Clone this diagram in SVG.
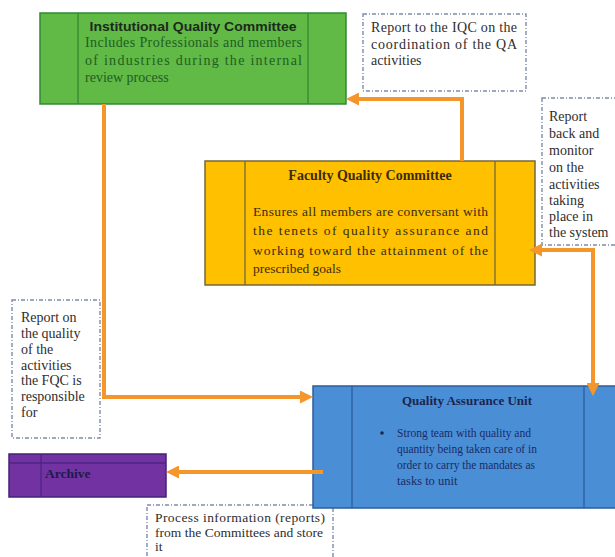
<svg xmlns="http://www.w3.org/2000/svg" width="615" height="557" viewBox="0 0 615 557">
<defs>
<style>
.serif{font-family:"Liberation Serif","DejaVu Serif",serif;}
.sans{font-family:"Liberation Sans",Arial,sans-serif;}
.note{fill:#ffffff;stroke:#7d8aab;stroke-width:1.4;stroke-dasharray:4 2 1 2;}
.nt{font-family:"Liberation Serif","DejaVu Serif",serif;font-size:14px;fill:#2e2e2e;}
.conn{fill:none;stroke:#f4962a;stroke-width:4;}
.div{stroke-width:1.3;}
</style>
<marker id="ah" markerUnits="userSpaceOnUse" markerWidth="13" markerHeight="13" refX="4" refY="6.5" orient="auto-start-reverse" viewBox="0 0 13 13">
<path d="M0,0 L13,6.5 L0,13 z" fill="#f4962a"/>
</marker>
</defs>
<rect width="615" height="557" fill="#ffffff"/>

<g id="note-iqc">
<rect class="note" x="363" y="14" width="163" height="77"/>
<text class="nt" x="371" y="32" textLength="146" lengthAdjust="spacing">Report to the IQC on the</text>
<text class="nt" x="371" y="49" textLength="146" lengthAdjust="spacing">coordination of the QA</text>
<text class="nt" x="371" y="65">activities</text>
</g>

<g id="note-fqc">
<rect class="note" x="542" y="98" width="80" height="147"/>
<text class="nt" x="549" y="121">Report</text>
<text class="nt" x="549" y="138">back and</text>
<text class="nt" x="549" y="155">monitor</text>
<text class="nt" x="549" y="172">on the</text>
<text class="nt" x="549" y="189">activities</text>
<text class="nt" x="549" y="205">taking</text>
<text class="nt" x="549" y="221">place in</text>
<text class="nt" x="549" y="237">the system</text>
</g>

<g id="note-left">
<rect class="note" x="12" y="300" width="88" height="138"/>
<text class="nt" x="21" y="322">Report on</text>
<text class="nt" x="21" y="338">the quality</text>
<text class="nt" x="21" y="354">of the</text>
<text class="nt" x="21" y="370">activities</text>
<text class="nt" x="21" y="385">the FQC is</text>
<text class="nt" x="21" y="401">responsible</text>
<text class="nt" x="21" y="417">for</text>
</g>

<g id="note-archive">
<rect class="note" x="147" y="505" width="186" height="60"/>
<text class="nt" x="155" y="522" font-size="13.5" textLength="170" lengthAdjust="spacing" style="font-size:13.5px">Process information (reports)</text>
<text class="nt" x="155" y="537" textLength="168" lengthAdjust="spacing" style="font-size:13.5px">from the Committees and store</text>
<text class="nt" x="155" y="551" style="font-size:13.5px">it</text>
</g>

<g id="iqc">
<rect x="40" y="13" width="306" height="91" fill="#61b946" stroke="#2f8a35" stroke-width="1.5"/>
<line class="div" x1="78" y1="13" x2="78" y2="104" stroke="#2f8a35"/>
<line class="div" x1="308" y1="13" x2="308" y2="104" stroke="#2f8a35"/>
<text class="sans" x="193" y="31" text-anchor="middle" font-size="12.5" font-weight="bold" fill="#1c2a1c" textLength="207" lengthAdjust="spacingAndGlyphs">Institutional Quality Committee</text>
<text class="serif" x="85" y="47" font-size="14" fill="#1e5e22" textLength="217" lengthAdjust="spacing">Includes Professionals and members</text>
<text class="serif" x="85" y="65" font-size="14" fill="#1e5e22" textLength="217" lengthAdjust="spacing">of industries during the internal</text>
<text class="serif" x="85" y="82" font-size="14" fill="#1e5e22">review process</text>
</g>

<g id="fqc">
<rect x="205" y="161" width="330" height="124" fill="#ffc000" stroke="#75683a" stroke-width="1.5"/>
<line class="div" x1="245" y1="161" x2="245" y2="285" stroke="#75683a"/>
<line class="div" x1="495" y1="161" x2="495" y2="285" stroke="#75683a"/>
<text class="serif" x="370" y="180" text-anchor="middle" font-size="14" font-weight="bold" fill="#3a2c10">Faculty Quality Committee</text>
<text class="serif" x="253" y="216" font-size="13.5" fill="#3a2c10" textLength="235" lengthAdjust="spacing">Ensures all members are conversant with</text>
<text class="serif" x="253" y="235" font-size="13.5" fill="#3a2c10" textLength="235" lengthAdjust="spacing">the tenets of quality assurance and</text>
<text class="serif" x="253" y="255" font-size="13.5" fill="#3a2c10" textLength="235" lengthAdjust="spacing">working toward the attainment of the</text>
<text class="serif" x="253" y="273" font-size="13.5" fill="#3a2c10">prescribed goals</text>
</g>

<g id="qau">
<rect x="313" y="386" width="305" height="122" fill="#4a8fd6" stroke="#2c5c9c" stroke-width="1.5"/>
<line class="div" x1="352" y1="386" x2="352" y2="508" stroke="#2c5c9c"/>
<line class="div" x1="584" y1="386" x2="584" y2="508" stroke="#2c5c9c"/>
<text class="serif" x="467" y="405" text-anchor="middle" font-size="13" font-weight="bold" fill="#1a2550">Quality Assurance Unit</text>
<circle cx="382" cy="433" r="1.8" fill="#1a2550"/>
<text class="serif" x="397" y="437" font-size="12.5" fill="#1a2a66" textLength="134" lengthAdjust="spacingAndGlyphs">Strong team with quality and</text>
<text class="serif" x="397" y="453" font-size="12.5" fill="#1a2a66" textLength="140" lengthAdjust="spacingAndGlyphs">quantity being taken care of in</text>
<text class="serif" x="397" y="469" font-size="12.5" fill="#1a2a66" textLength="138" lengthAdjust="spacingAndGlyphs">order to carry the mandates as</text>
<text class="serif" x="397" y="485" font-size="12.5" fill="#1a2a66">tasks to unit</text>
</g>

<g id="archive">
<rect x="9" y="454" width="157" height="43" fill="#7232a2" stroke="#45207a" stroke-width="1.5"/>
<line class="div" x1="9" y1="463" x2="166" y2="463" stroke="#4e2585"/>
<line class="div" x1="41" y1="454" x2="41" y2="497" stroke="#4e2585"/>
<text class="serif" x="45" y="478" font-size="13.5" font-weight="bold" fill="#1c1c4a">Archive</text>
</g>

<g id="connectors">
<path class="conn" d="M462,161 V99 H355" marker-end="url(#ah)"/>
<path class="conn" d="M593,387 V250 H538" marker-start="url(#ah)" marker-end="url(#ah)"/>
<path class="conn" d="M104,104 V397 H304" marker-end="url(#ah)"/>
<path class="conn" d="M323,472 H175" marker-end="url(#ah)"/>
</g>
</svg>
